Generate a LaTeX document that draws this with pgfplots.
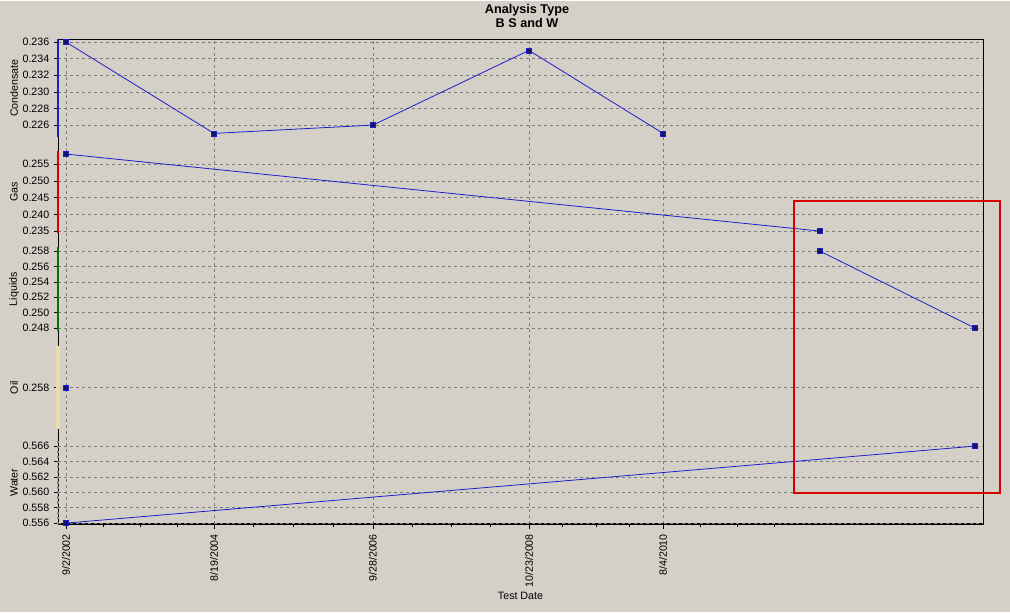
\documentclass[border=0pt]{standalone}
\usepackage{pgfplots}
\pgfplotsset{compat=1.18}
\usepackage{fontspec}
\setmainfont{Liberation Sans}
\definecolor{bg}{RGB}{212,208,200}
\definecolor{ln}{RGB}{30,30,200}
\definecolor{mk}{RGB}{20,20,100}
\definecolor{grd}{RGB}{125,125,125}
\definecolor{tan}{RGB}{236,218,170}

\pgfplotsset{
  panel/.style={
    scale only axis, width=693.75pt,
    xmin=-38.8, xmax=4443,
    hide x axis,
    axis y line*=left,
    y axis line style={-, line width=1.8pt, #1},
    ymajorgrids,
    major grid style={grd, dash pattern=on 2.25pt off 2.25pt, line width=0.5pt},
    tick align=outside, major tick length=3pt,
    ytick style={black, line width=0.5pt},
    font=\fontsize{8}{9.6}\selectfont,
    yticklabel style={/pgf/number format/.cd, fixed, fixed zerofill, precision=3, assume math mode=true},
    every axis y label/.style={at={(rel axis cs:0,0.5)}, xshift=-33pt, rotate=90, anchor=center},
    clip=false,
  },
  ser/.style={ln, line width=0.6pt, mark=square*, mark size=1.9pt,
    mark options={fill=mk, draw=ln, line width=0.4pt}},
}

\begin{document}
\begin{tikzpicture}
\fill[bg] (0,0) rectangle (757.5pt,-458.25pt);

% frame, dates and vertical grid
\begin{axis}[
  scale only axis, width=693.75pt, height=363.75pt,
  at={(43.5pt,-392.25pt)}, anchor=south west,
  xmin=-38.8, xmax=4443, ymin=0, ymax=1,
  ytick=\empty,
  xtick={0,717,1487,2243,2893},
  xticklabels={9/2/2002,8/19/2004,9/28/2006,10/23/2008,8/4/2010},
  minor xtick={179.25,358.5,537.75,909.5,1102,1294.5,1676,1865,2054,2405.5,2568,2730.5,3075,3251,3430},
  xmajorgrids,
  major grid style={grd, dash pattern=on 2.25pt off 2.25pt, line width=0.5pt},
  tick align=outside, major tick length=4pt, minor tick length=2.5pt,
  xtick pos=bottom,
  xtick style={black, line width=0.5pt},
  axis line style={black, line width=0.75pt},
  font=\fontsize{8}{9.6}\selectfont,
  x tick label style={rotate=90, anchor=east},
  xlabel={Test Date},
  every axis x label/.style={at={(rel axis cs:0.5,0)}, yshift=-54pt, anchor=center},
]
\addplot[draw=none] coordinates {(0,0)};
\draw[line width=2.25pt] (rel axis cs:0,0) -- (rel axis cs:1,0);
\end{axis}

% Condensate
\begin{axis}[panel=ln, height=73.5pt, at={(43.5pt,-102pt)}, anchor=south west,
  ymin=0.224554, ymax=0.236361,
  ytick={0.226,0.228,0.230,0.232,0.234,0.236}, ylabel={Condensate}]
\addplot[ser] coordinates {(0,0.236) (717,0.225) (1487,0.226) (2243,0.235) (2893,0.225)};
\end{axis}

% Gas
\begin{axis}[panel={red!85!black}, height=61.5pt, at={(43.5pt,-174pt)}, anchor=south west,
  ymin=0.234403, ymax=0.258881,
  ytick={0.235,0.240,0.245,0.250,0.255}, ylabel={Gas}]
\addplot[ser] coordinates {(0,0.258) (3653,0.235)};
\end{axis}

% Liquids
\begin{axis}[panel={green!45!black}, height=63pt, at={(43.5pt,-247.5pt)}, anchor=south west,
  ymin=0.24761, ymax=0.25852,
  ytick={0.248,0.250,0.252,0.254,0.256,0.258}, ylabel={Liquids}]
\addplot[ser] coordinates {(3653,0.258) (4404,0.248)};
\end{axis}

% Oil
\begin{axis}[panel={tan, line width=2.6pt}, height=62.25pt, at={(43.5pt,-321pt)}, anchor=south west,
  ymin=0.257, ymax=0.259,
  ytick={0.258}, ylabel={Oil}]
\addplot[ser] coordinates {(0,0.258)};
\end{axis}

% Water
\begin{axis}[panel={gray, dotted, line width=1.5pt}, height=62.25pt, at={(43.5pt,-392.25pt)}, anchor=south west,
  ymin=0.55587, ymax=0.56665,
  ytick={0.556,0.558,0.560,0.562,0.564,0.566}, ylabel={Water}]
\addplot[ser] coordinates {(0,0.556) (4404,0.566)};
\end{axis}

% title
\node[font=\bfseries\fontsize{9.5}{10.5}\selectfont, align=center] at (395.25pt,-11.25pt) {Analysis Type\\B S and W};

% highlight box
\draw[red!85!black, line width=1.5pt] (595.5pt,-150pt) rectangle (750pt,-369pt);
\end{tikzpicture}
\end{document}
